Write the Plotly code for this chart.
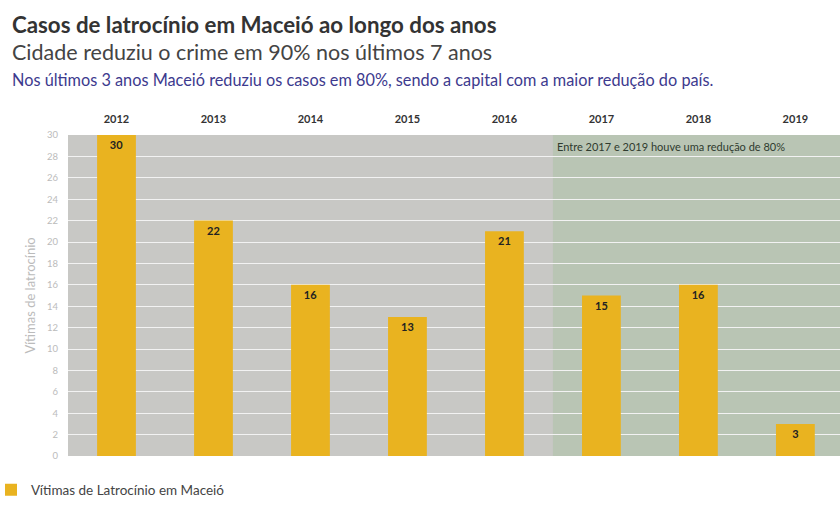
import plotly.graph_objects as go

years = ["2012", "2013", "2014", "2015", "2016", "2017", "2018", "2019"]
victims = [30, 22, 16, 13, 21, 15, 16, 3]
yticks = list(range(0, 31, 2))

title = "Casos de latrocínio em Maceió ao longo dos anos"
subtitle = "Cidade reduziu o crime em 90% nos últimos 7 anos"
note = "Nos últimos 3 anos Maceió reduziu os casos em 80%, sendo a capital com a maior redução do país."
band_note = "Entre 2017 e 2019 houve uma redução de 80%"
series_name = "Vítimas de Latrocínio em Maceió"
ytitle = "Vítimas de latrocínio"

FONT = "Lato"
W, H = 840, 520
ML, MR, MT, MB = 68, 0, 135, 64
pw = W - ML - MR
ph = H - MT - MB

def px(xpix):
    return (xpix - ML) / pw

def py(ypix):
    return (H - MB - ypix) / ph

fig = go.Figure()
fig.add_trace(go.Bar(
    x=years, y=victims, name=series_name,
    marker=dict(color="#e9b320", line=dict(width=0)),
    width=0.4,
    text=["<b>" + str(v) + "</b>" for v in victims],
    textposition="inside", insidetextanchor="end",
    textfont=dict(family=FONT, size=11, color="#222"),
    showlegend=True,
))

fig.add_shape(type="rect", xref="x", yref="paper", x0=4.5, x1=7.5, y0=0, y1=1,
              fillcolor="#b9c5b4", line=dict(width=0), layer="below")

fig.add_annotation(x=px(10), y=py(9), xref="paper", yref="paper", yanchor="top", xanchor="left",
                   text="<b>" + title + "</b>", showarrow=False,
                   font=dict(family=FONT, size=22.3, color="#333"))
fig.add_annotation(x=px(10), y=py(37), xref="paper", yref="paper", yanchor="top", xanchor="left",
                   text=subtitle, showarrow=False,
                   font=dict(family=FONT, size=21.5, color="#444"))
fig.add_annotation(x=px(10), y=py(68), xref="paper", yref="paper", yanchor="top", xanchor="left",
                   text=note, showarrow=False,
                   font=dict(family=FONT, size=16.3, color="#3d3a8e"))
fig.add_annotation(x=4.5, y=1, xref="x", yref="paper", xanchor="left", yanchor="top",
                   text=band_note, showarrow=False, xshift=2, yshift=-3,
                   font=dict(family=FONT, size=11, color="#2f3b2f"))

fig.update_layout(
    width=W, height=H,
    margin=dict(l=ML, r=MR, t=MT, b=MB, autoexpand=False),
    paper_bgcolor="white",
    plot_bgcolor="#c8c8c5",
    bargap=0.6,
    font=dict(family=FONT),
    legend=dict(orientation="h", x=px(-9), y=py(490), itemwidth=30,
                xanchor="left", yanchor="middle",
                font=dict(family=FONT, size=13.5, color="#444")),
    xaxis=dict(side="top", range=[-0.5, 7.46], showgrid=False, ticks="",
               ticklabelstandoff=9, automargin=False,
               tickfont=dict(family=FONT, size=11, color="#333"),
               tickprefix="<b>", ticksuffix="</b>", showline=False, zeroline=False),
    yaxis=dict(range=[0, 30], tickvals=yticks, showgrid=True, gridcolor="#f2f2f2", gridwidth=1,
               automargin=False, ticklabelstandoff=9,
               tickfont=dict(family=FONT, size=9.5, color="#bbb"), zeroline=False,
               title=dict(text=ytitle, font=dict(family=FONT, size=13, color="#bbb"), standoff=8),
               ticks=""),
)

fig.write_html("out.html")
